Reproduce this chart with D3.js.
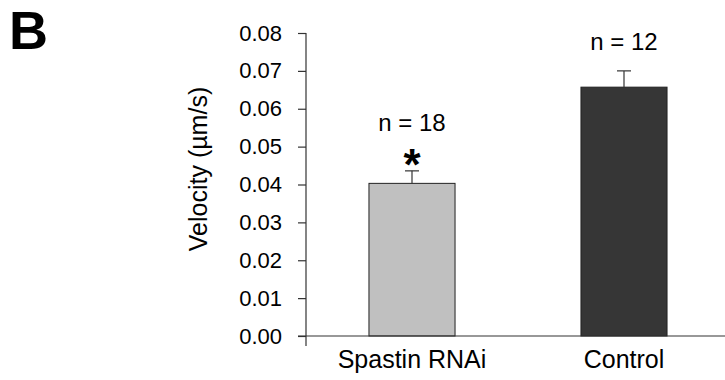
<!DOCTYPE html>
<html>
<head>
<meta charset="utf-8">
<script src="https://cdn.jsdelivr.net/npm/d3@7"></script>
<style>
  body { margin: 0; background: #fff; }
  svg { font-family: "Liberation Sans", Arial, sans-serif; }
</style>
</head>
<body>
<svg width="725" height="380"></svg>
<script>
// data
var groups = ["Spastin RNAi", "Control"];
var means = [0.0403, 0.0657];
var errors = [0.0033, 0.0043];
var counts = [18, 12];
var signif = [true, false];
var yTicks = [0, 0.01, 0.02, 0.03, 0.04, 0.05, 0.06, 0.07, 0.08];
var barColors = ["#c0c0c0", "#363636"];

var svg = d3.select("svg");

var x = d3.scaleBand()
    .domain(groups)
    .range([306, 730])
    .paddingInner(0.594)
    .paddingOuter(0.297);

var y = d3.scaleLinear()
    .domain([0, 0.08])
    .range([336, 33]);

var data = groups.map(function(g, i) {
    return {group: g, mean: means[i], err: errors[i], n: counts[i], sig: signif[i], color: barColors[i]};
});

// panel letter
svg.append("text")
    .attr("x", 9)
    .attr("y", 49)
    .attr("font-size", 54)
    .attr("font-weight", "bold")
    .text("B");

// bars
svg.selectAll(".bar")
    .data(data)
    .enter().append("rect")
    .attr("class", "bar")
    .attr("x", function(d) { return x(d.group); })
    .attr("y", function(d) { return y(d.mean); })
    .attr("width", x.bandwidth())
    .attr("height", function(d) { return y(0) - y(d.mean); })
    .attr("fill", function(d) { return d.color; })
    .attr("stroke", "#222")
    .attr("stroke-width", 1);

// error bars (upper only)
var eb = svg.selectAll(".err")
    .data(data)
    .enter().append("g")
    .attr("class", "err")
    .attr("stroke", "#333")
    .attr("stroke-width", 1.2);

eb.append("line")
    .attr("x1", function(d) { return x(d.group) + x.bandwidth() / 2; })
    .attr("x2", function(d) { return x(d.group) + x.bandwidth() / 2; })
    .attr("y1", function(d) { return y(d.mean); })
    .attr("y2", function(d) { return y(d.mean + d.err); });

eb.append("line")
    .attr("x1", function(d) { return x(d.group) + x.bandwidth() / 2 - 7; })
    .attr("x2", function(d) { return x(d.group) + x.bandwidth() / 2 + 7; })
    .attr("y1", function(d) { return y(d.mean + d.err); })
    .attr("y2", function(d) { return y(d.mean + d.err); });

// asterisk
svg.selectAll(".star")
    .data(data.filter(function(d) { return d.sig; }))
    .enter().append("text")
    .attr("class", "star")
    .attr("x", function(d) { return x(d.group) + x.bandwidth() / 2; })
    .attr("y", function(d) { return y(d.mean + d.err) + 9; })
    .attr("text-anchor", "middle")
    .attr("font-size", 44)
    .attr("font-weight", "bold")
    .text("*");

// n labels
svg.selectAll(".nlab")
    .data(data)
    .enter().append("text")
    .attr("class", "nlab")
    .attr("x", function(d) { return x(d.group) + x.bandwidth() / 2; })
    .attr("y", function(d) { return y(d.mean + d.err) - (d.sig ? 40 : 21); })
    .attr("text-anchor", "middle")
    .attr("font-size", 24)
    .text(function(d) { return "n = " + d.n; });

// y axis
var yAxis = svg.append("g")
    .attr("transform", "translate(306,0)")
    .call(d3.axisLeft(y).tickValues(yTicks).tickFormat(d3.format(".2f")).tickSize(8).tickSizeOuter(0).tickPadding(16));
yAxis.select(".domain").remove();
yAxis.selectAll("line").attr("stroke", "#333").attr("stroke-width", 1.2);
yAxis.selectAll("text").attr("font-size", 22).attr("fill", "#000").attr("font-family", "Liberation Sans, Arial, sans-serif");

svg.append("line")
    .attr("x1", 306).attr("x2", 306)
    .attr("y1", y(0.08)).attr("y2", y(0) + 10)
    .attr("stroke", "#333").attr("stroke-width", 1.2);

// x axis
svg.append("line")
    .attr("x1", 298).attr("x2", 725)
    .attr("y1", y(0)).attr("y2", y(0))
    .attr("stroke", "#333").attr("stroke-width", 1.2);

svg.selectAll(".xlab")
    .data(groups)
    .enter().append("text")
    .attr("class", "xlab")
    .attr("x", function(d) { return x(d) + x.bandwidth() / 2; })
    .attr("y", 368)
    .attr("text-anchor", "middle")
    .attr("font-size", 25)
    .text(function(d) { return d; });

// y label
svg.append("text")
    .attr("transform", "translate(207,169) rotate(-90)")
    .attr("text-anchor", "middle")
    .attr("font-size", 25)
    .text("Velocity (µm/s)");
</script>
</body>
</html>
